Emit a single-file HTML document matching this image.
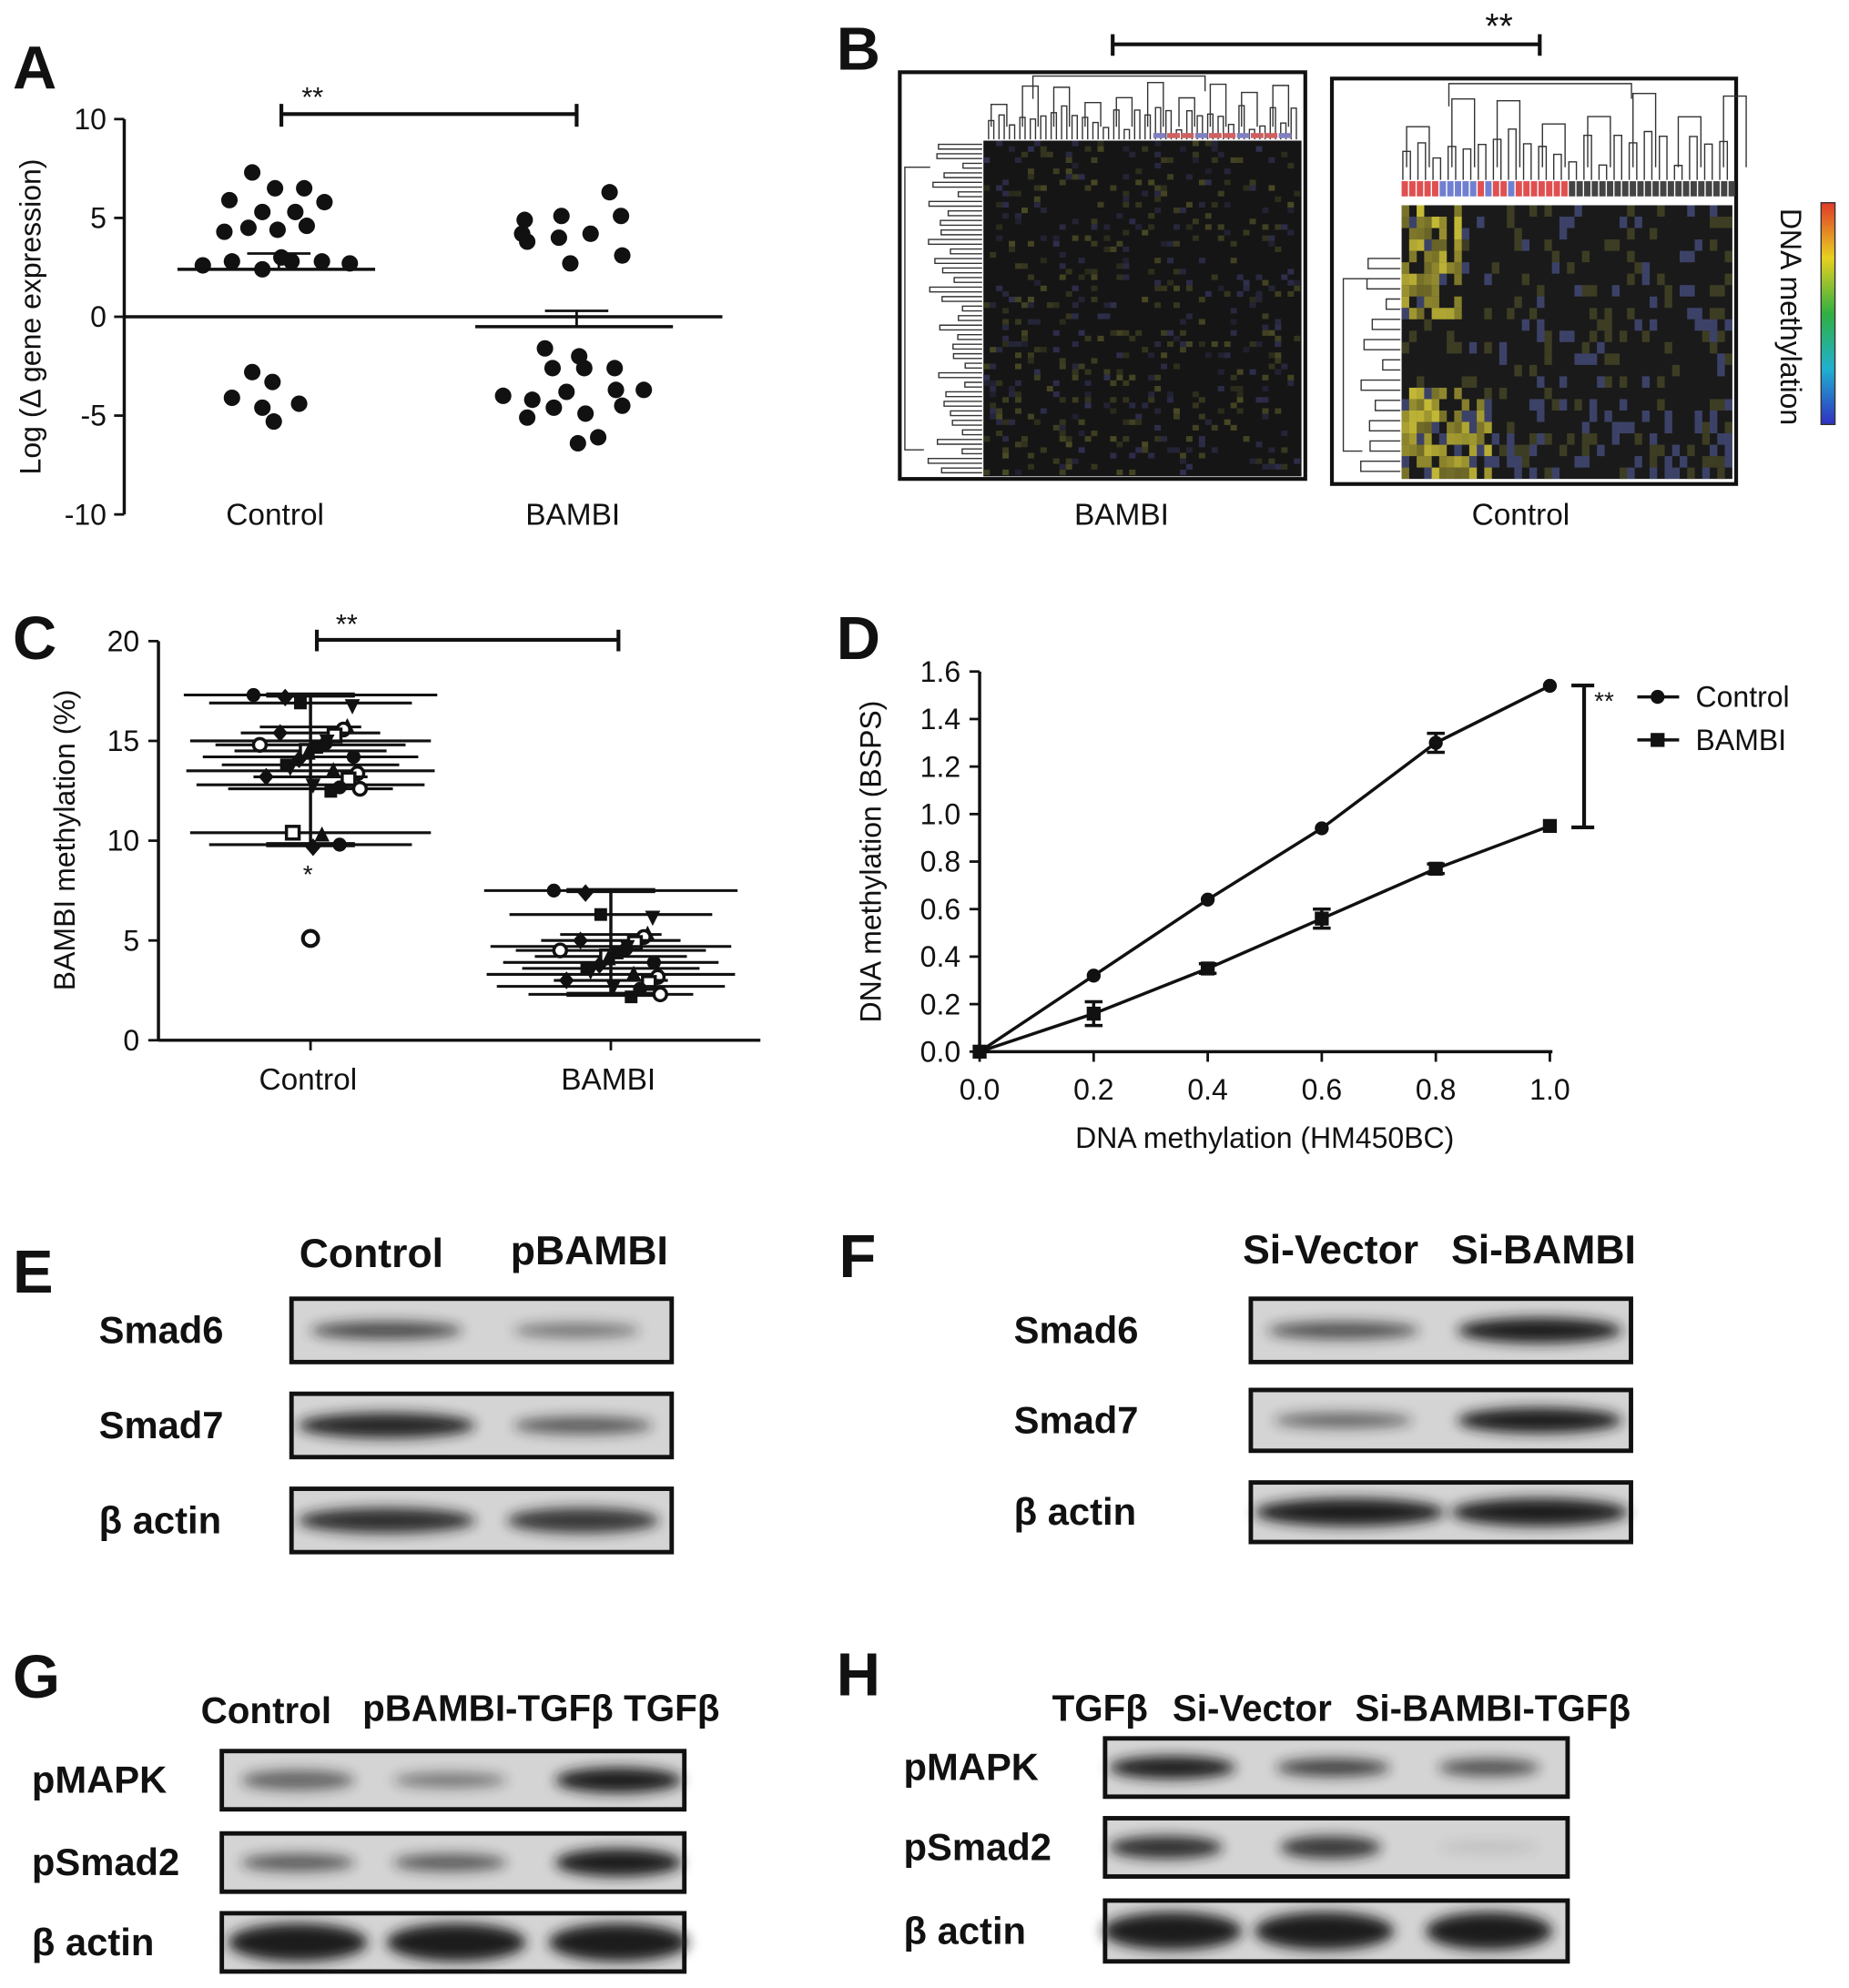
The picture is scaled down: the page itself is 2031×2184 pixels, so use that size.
<!DOCTYPE html>
<html><head><meta charset="utf-8"><style>
html,body{margin:0;padding:0;background:#fff}
svg{display:block;font-family:"Liberation Sans",Arial,sans-serif}
</style></head><body>
<svg id="fig" width="2031" height="2184" viewBox="0 0 1459 1569" xmlns="http://www.w3.org/2000/svg">
<defs>
<filter id="blur" x="-20%" y="-80%" width="140%" height="260%"><feGaussianBlur stdDeviation="5"/></filter>
<linearGradient id="cbar" x1="0" y1="0" x2="0" y2="1">
<stop offset="0" stop-color="#e03a2a"/><stop offset="0.25" stop-color="#e8d020"/><stop offset="0.5" stop-color="#30b040"/><stop offset="0.75" stop-color="#20b0d0"/><stop offset="1" stop-color="#3030c0"/></linearGradient>
</defs>
<g id="root"></g>
</svg>
<script>
// ---------- data ----------
const aCategories=["Control","BAMBI"];
const aControl=[7.3,6.5,5.9,6.5,5.8,5.3,5.3,4.3,4.5,4.4,4.6,2.6,2.8,2.4,2.8,2.8,2.7,3.0,-2.8,-3.3,-4.1,-4.6,-4.4,-5.3];
const aBambi=[6.3,4.9,5.1,4.2,5.1,3.8,4.0,4.2,2.7,3.1,-1.6,-2.0,-2.6,-2.6,-2.6,-4.0,-4.2,-3.8,-3.7,-5.1,-4.6,-4.9,-4.5,-6.4,-6.1,-3.7];
const aJitterC=[-21,-3,-39,20,36,-13,13,-43,-24,-1,22,-60,-37,-13,10,34,56,2,-21,-5,-37,-13,16,-4];
const aJitterB=[26,-41,-12,11,35,-39,-14,-43,-5,36,-25,2,-19,6,30,-58,-35,-8,53,-39,-18,7,36,1,17,31];
const aMeans=[2.4,-0.5];
const aTicks=[10,5,0,-5,-10];
const cControl=[17.3,16.9,15.7,15.4,15.0,14.8,14.5,14.2,13.8,13.5,13.2,12.8,12.6,10.4,9.8];
const cBambi=[7.5,6.3,5.3,5.0,4.7,4.5,4.2,3.9,3.6,3.3,3.0,2.7,2.3];
const cOutlier=[5.1];
const cTicks=[0,5,10,15,20];
const dX=[0,0.2,0.4,0.6,0.8,1.0];
const dControl=[0,0.32,0.64,0.94,1.3,1.54];
const dBambi=[0,0.16,0.35,0.56,0.77,0.95];
const dErrC=[0,0.01,0.01,0.01,0.04,0.01];
const dErrB=[0,0.05,0.02,0.04,0.02,0.01];
const dYTicks=[0,0.2,0.4,0.6,0.8,1.0,1.2,1.4,1.6];
const dXTicks=[0,0.2,0.4,0.6,0.8,1.0];

const NS="http://www.w3.org/2000/svg";
const root=document.getElementById('root');
function el(tag,attrs,parent,text){const e=document.createElementNS(NS,tag);for(const k in attrs)e.setAttribute(k,attrs[k]);if(text!==undefined)e.textContent=text;(parent||root).appendChild(e);return e;}
function txt(x,y,s,size,opts,name){const e=el('text',Object.assign({x:x,y:y,'font-size':size,fill:'#111'},opts||{}),null,s);

return e;}
function line(x1,y1,x2,y2,w,name){const e=el('line',{x1,y1,x2,y2,stroke:'#111','stroke-width':w||2});

return e;}

// panel letters
[["A",10,70],["B",660,55],["C",10,520],["D",660,520],["E",10,1020],["F",662,1008],["G",10,1340],["H",660,1338]].forEach(p=>{txt(p[1],p[2],p[0],48,{'font-weight':'bold'},'panel-label-'+p[0].toLowerCase());});

// ---------- Panel A ----------
const aY=v=>250-v*15.6, aXc=[220,455];
line(98,94,98,406,2.5,'a-y-axis');
aTicks.forEach(t=>{line(90,aY(t),98,aY(t),2,'a-y-tick');txt(84,aY(t)+8,String(t),23,{'text-anchor':'end'},'a-y-tick-label');});
line(98,250,570,250,2.5,'a-zero-line');
txt(25,250,"Log (Δ gene expression)",23,{transform:'rotate(-90 25 250)','text-anchor':'middle',y:257},'a-y-axis-title');
aCategories.forEach((c,i)=>txt(aXc[i]-3,414,c,24,{'text-anchor':'middle'},'a-x-label-'+c.toLowerCase()));
[[aControl,aJitterC],[aBambi,aJitterB]].forEach((s,i)=>{s[0].forEach((v,j)=>{const c=el('circle',{cx:aXc[i]+s[1][j],cy:aY(v),r:6.5,fill:'#111'});

});
const m=aMeans[i];line(aXc[i]-80,aY(m),aXc[i]+76,aY(m),2.5,'a-mean-line');
line(aXc[i]-25,aY(m+0.8),aXc[i]+25,aY(m+0.8),2,'a-sem');line(aXc[i],aY(m),aXc[i],aY(m+0.8),2,'a-sem');});
line(222,90,455,90,3,'a-sig-bar');line(222,82,222,100,3,'a-sig-bar');line(455,82,455,100,3,'a-sig-bar');
txt(238,84,"**",22,{},'a-sig-stars');

// ---------- Panel B ----------
function hash(i,j,s){let h=Math.sin(i*127.1+j*311.7+s*74.7)*43758.5453;return h-Math.floor(h);}
function dendroTop(x0,x1,y0,y1,n,name){const g=el('g',{stroke:'#333','stroke-width':1,fill:'none'});


const w=(x1-x0)/n;for(let i=0;i<n;i+=2){const xa=x0+i*w+w/2,xb=xa+w;const hh=y1-(y1-y0)*(0.15+0.4*hash(i,1,3));el('path',{d:`M${xa} ${y1}V${hh}H${xb}V${y1}`},g);}
for(let i=0;i<n;i+=6){const xa=x0+i*w+w,xb=xa+3*w;const hh=y0+(y1-y0)*(0.1+0.35*hash(i,2,5));el('path',{d:`M${xa} ${y1-10}V${hh}H${xb}V${y1-10}`},g);}
el('path',{d:`M${x0+(x1-x0)*0.15} ${y0+18}V${y0}H${x0+(x1-x0)*0.7}V${y0+12}`},g);}
function dendroLeft(x0,x1,y0,y1,n,name){const g=el('g',{stroke:'#333','stroke-width':1,fill:'none'});


const h=(y1-y0)/n;for(let i=0;i<n;i+=2){const ya=y0+i*h+h/2,yb=ya+h;const xx=x1-(x1-x0)*(0.2+0.5*hash(i,4,2));el('path',{d:`M${x1} ${ya}H${xx}V${yb}H${x1}`},g);}
el('path',{d:`M${x0+20} ${y0+20}H${x0}V${y1-20}H${x0+15}`},g);}
// left heatmap
el('rect',{x:710,y:57,width:320,height:321,fill:'#fff',stroke:'#111','stroke-width':3});
dendroTop(778,1025,60,110,60,'b-bambi-top-dendrogram');
dendroLeft(714,775,112,375,70,'b-bambi-left-dendrogram');
const hmL=el('g',{});
el('rect',{x:776,y:111,width:251,height:265,fill:'#151515'},hmL);
for(let i=0;i<60;i++)for(let j=0;j<50;j++){const r=hash(i,j,1);if(r>0.82){const yel=hash(i,j,2)>0.45;el('rect',{x:776+j*5,y:111+i*4.4,width:5,height:4.4,fill:yel?'#4a4a26':'#303050',opacity:0.4+0.6*hash(i,j,9)},hmL);}}
for(let j=0;j<10;j++)el('rect',{x:910+j*11,y:105,width:10,height:4,fill:j%3?'#d06060':'#8080c0'},hmL);
// right heatmap
el('rect',{x:1051,y:62,width:319,height:320,fill:'#fff',stroke:'#111','stroke-width':3});
dendroTop(1104,1366,66,142,44,'b-control-top-dendrogram');
dendroLeft(1060,1105,200,376,22,'b-control-left-dendrogram');
const hmR=el('g',{});
for(let j=0;j<44;j++){const c=j<22?(hash(j,0,7)>0.45?'#e05050':'#7080d0'):'#444';el('rect',{x:1106+j*6,y:143,width:5,height:12,fill:c},hmR);}
el('rect',{x:1106,y:162,width:261,height:216,fill:'#1a1a1a'},hmR);
for(let i=0;i<24;i++)for(let j=0;j<44;j++){const r=hash(i,j,11);let c=null,op=0.6;
const yStrong=(j<8&&r>0.45&&(i<10||i>15))||(j<12&&i>=17&&r>0.4);
if(yStrong){c='#d8cc3a';op=0.4+0.5*hash(i,j,5);}else if(r>0.88)c='#55552c';else if(r<0.07||(i>=17&&r<0.25)){c='#5a64a8';op=0.55;}
if(c)el('rect',{x:1106+j*5.93,y:162+i*9,width:6,height:9,fill:c,opacity:op},hmR);}
el('rect',{x:1437,y:160,width:11,height:175,fill:'url(#cbar)',stroke:'#333','stroke-width':1});
txt(1405,250,"DNA methylation",23,{transform:'rotate(90 1405 250)','text-anchor':'middle'},'b-colorbar-title');
line(878,35,1215,35,3,'b-sig-bar');line(878,27,878,44,3,'b-sig-bar');line(1215,27,1215,44,3,'b-sig-bar');
txt(1172,30,"**",28,{},'b-sig-stars');
txt(885,414,"BAMBI",24,{'text-anchor':'middle'},'b-label-bambi');
txt(1200,414,"Control",24,{'text-anchor':'middle'},'b-label-control');

// ---------- Panel C ----------
const cY=v=>821-v*15.75, cXc=[245,482];
line(125,506,125,821,2.5,'c-y-axis');line(125,821,600,821,2.5,'c-x-axis');
cTicks.forEach(t=>{line(117,cY(t),125,cY(t),2,'c-y-tick');txt(110,cY(t)+8,String(t),23,{'text-anchor':'end'},'c-y-tick-label');});
cXc.forEach(x=>line(x,821,x,829,2,'c-x-tick'));
txt(52,663,"BAMBI methylation (%)",23,{transform:'rotate(-90 52 663)','text-anchor':'middle',y:670},'c-y-axis-title');
txt(243,860,"Control",24,{'text-anchor':'middle'},'c-x-label-control');
txt(480,860,"BAMBI",24,{'text-anchor':'middle'},'c-x-label-bambi');
const shapes=['circle','square','triangle','diamond','invtri','opencircle','opensquare'];
function marker(x,y,k,name){let e;const s=shapes[k%shapes.length];
if(s==='circle')e=el('circle',{cx:x,cy:y,r:5.5,fill:'#111'});
else if(s==='opencircle')e=el('circle',{cx:x,cy:y,r:5,fill:'#fff',stroke:'#111','stroke-width':2.5});
else if(s==='square')e=el('rect',{x:x-5,y:y-5,width:10,height:10,fill:'#111'});
else if(s==='opensquare')e=el('rect',{x:x-5,y:y-5,width:10,height:10,fill:'#fff',stroke:'#111','stroke-width':2.5});
else if(s==='triangle')e=el('path',{d:`M${x} ${y-7}L${x+6} ${y+5}L${x-6} ${y+5}Z`,fill:'#111'});
else if(s==='invtri')e=el('path',{d:`M${x} ${y+7}L${x+6} ${y-5}L${x-6} ${y-5}Z`,fill:'#111'});
else e=el('path',{d:`M${x} ${y-7}L${x+6} ${y}L${x} ${y+7}L${x-6} ${y}Z`,fill:'#111'});

}
[cControl,cBambi].forEach((arr,i)=>{const xc=cXc[i];arr.forEach((v,j)=>{const hw=[100,80,40,55,95,75,60,85,70,98,45,90,65,95,80][j%15];
line(xc-hw,cY(v),xc+hw,cY(v),2.2,'c-range-line');
marker(xc-45+((j*37)%90),cY(v),j,'c-point');marker(xc-20+((j*53)%60),cY(v)+2,j+3,'c-point');});
const lo=Math.min(...arr),hi=Math.max(...arr);line(xc,cY(lo),xc,cY(hi),2.5,'c-whisker');
line(xc-35,cY(hi),xc+35,cY(hi),4,'c-whisker-cap');line(xc-35,cY(lo),xc+35,cY(lo),4,'c-whisker-cap');});
cOutlier.forEach(v=>{const c=el('circle',{cx:cXc[0],cy:cY(v),r:6,fill:'#fff',stroke:'#111','stroke-width':3});

});
txt(239,697,"*",20,{},'c-outlier-star');
line(250,505,488,505,3,'c-sig-bar');line(250,497,250,514,3,'c-sig-bar');line(488,497,488,514,3,'c-sig-bar');
txt(265,500,"**",22,{},'c-sig-stars');

// ---------- Panel D ----------
const dXs=v=>773+v*450, dYs=v=>830-v*187.5;
line(773,530,773,830,2.5,'d-y-axis');line(773,830,1225,830,2.5,'d-x-axis');
dYTicks.forEach(t=>{line(765,dYs(t),773,dYs(t),2,'d-y-tick');txt(758,dYs(t)+8,t.toFixed(1),23,{'text-anchor':'end'},'d-y-tick-label');});
dXTicks.forEach(t=>{line(dXs(t),830,dXs(t),838,2,'d-x-tick');txt(dXs(t),868,t.toFixed(1),23,{'text-anchor':'middle'},'d-x-tick-label');});
txt(998,906,"DNA methylation (HM450BC)",23,{'text-anchor':'middle'},'d-x-axis-title');
txt(688,680,"DNA methylation (BSPS)",23,{transform:'rotate(-90 688 680)','text-anchor':'middle',y:687},'d-y-axis-title');
[[dControl,dErrC,'control'],[dBambi,dErrB,'bambi']].forEach(s=>{
const p=el('polyline',{points:dX.map((x,i)=>dXs(x)+','+dYs(s[0][i])).join(' '),fill:'none',stroke:'#111','stroke-width':2.5});


dX.forEach((x,i)=>{const e=s[1][i];if(e>0.015){line(dXs(x),dYs(s[0][i]+e),dXs(x),dYs(s[0][i]-e),2.5,'d-error-bar');line(dXs(x)-7,dYs(s[0][i]+e),dXs(x)+7,dYs(s[0][i]+e),2.5,'d-error-cap');line(dXs(x)-7,dYs(s[0][i]-e),dXs(x)+7,dYs(s[0][i]-e),2.5,'d-error-cap');}
let m;if(s[2]==='control')m=el('circle',{cx:dXs(x),cy:dYs(s[0][i]),r:5.5,fill:'#111'});else m=el('rect',{x:dXs(x)-5.5,y:dYs(s[0][i])-5.5,width:11,height:11,fill:'#111'});

});});
line(1250,541,1250,653,3,'d-sig-bar');line(1240,541,1258,541,3,'d-sig-bar');line(1240,653,1258,653,3,'d-sig-bar');
txt(1258,560,"**",20,{},'d-sig-stars');
line(1292,550,1325,550,2.5,'legend-line-control');el('circle',{cx:1308,cy:550,r:5.5,fill:'#111'});
txt(1338,558,"Control",23,{},'legend-label-control');
line(1292,584,1325,584,2.5,'legend-line-bambi');el('rect',{x:1302.5,y:578.5,width:11,height:11,fill:'#111'});
txt(1338,592,"BAMBI",23,{},'legend-label-bambi');

// ---------- Blots ----------
function blot(prefix,x0,x1,rows,labelX,bands){rows.forEach((r,ri)=>{const g=el('g',{});


el('rect',{x:x0,y:r[0],width:x1-x0,height:r[1]-r[0],fill:'#d4d4d4',stroke:'#111','stroke-width':3.5},g);
const cy=(r[0]+r[1])/2;bands[ri].forEach(b=>{el('ellipse',{cx:b[0],cy:cy,rx:b[1],ry:b[2],fill:'#1a1a1a',opacity:b[3],filter:'url(#blur)'},g);});
txt(labelX,cy+10,r[2],30,{'font-weight':'bold'},prefix+'-row-label');});}
txt(293,1000,"Control",32,{'font-weight':'bold','text-anchor':'middle'},'e-header-control');
txt(465,998,"pBAMBI",32,{'font-weight':'bold','text-anchor':'middle'},'e-header-pbambi');
blot('e',230,530,[[1025,1075,'Smad6'],[1100,1150,'Smad7'],[1175,1225,'β actin']],78,
[[[305,60,7,0.75],[455,50,6,0.5]],[[305,70,10,0.95],[460,55,7,0.65]],[[305,70,10,0.9],[460,60,10,0.85]]]);
txt(1050,997,"Si-Vector",32,{'font-weight':'bold','text-anchor':'middle'},'f-header-si-vector');
txt(1218,997,"Si-BAMBI",32,{'font-weight':'bold','text-anchor':'middle'},'f-header-si-bambi');
blot('f',987,1287,[[1025,1075,'Smad6'],[1097,1145,'Smad7'],[1170,1217,'β actin']],800,
[[[1060,60,7,0.7],[1215,65,10,1]],[[1060,55,6,0.6],[1215,65,10,1]],[[1065,75,11,1],[1215,70,11,1]]]);
txt(210,1360,"Control",29,{'font-weight':'bold','text-anchor':'middle'},'g-header-control');
txt(385,1358,"pBAMBI-TGFβ",29,{'font-weight':'bold','text-anchor':'middle'},'g-header-pbambi-tgfb');
txt(530,1358,"TGFβ",29,{'font-weight':'bold','text-anchor':'middle'},'g-header-tgfb');
blot('g',175,540,[[1382,1428,'pMAPK'],[1447,1493,'pSmad2'],[1510,1556,'β actin']],25,
[[[235,45,8,0.6],[355,45,6,0.5],[488,50,10,1]],[[235,45,7,0.65],[355,45,7,0.65],[488,50,11,1]],[[235,55,15,1],[360,55,15,1],[488,55,15,1]]]);
txt(868,1358,"TGFβ",29,{'font-weight':'bold','text-anchor':'middle'},'h-header-tgfb');
txt(988,1358,"Si-Vector",29,{'font-weight':'bold','text-anchor':'middle'},'h-header-si-vector');
txt(1178,1358,"Si-BAMBI-TGFβ",29,{'font-weight':'bold','text-anchor':'middle'},'h-header-si-bambi-tgfb');
blot('h',872,1237,[[1372,1418,'pMAPK'],[1435,1481,'pSmad2'],[1500,1548,'β actin']],713,
[[[925,50,9,1],[1052,45,7,0.8],[1175,40,7,0.7]],[[920,45,9,0.9],[1050,40,9,0.85],[1175,40,5,0.1]],[[925,55,15,1],[1045,55,15,1],[1175,50,15,1]]]);
</script>
</body></html>
